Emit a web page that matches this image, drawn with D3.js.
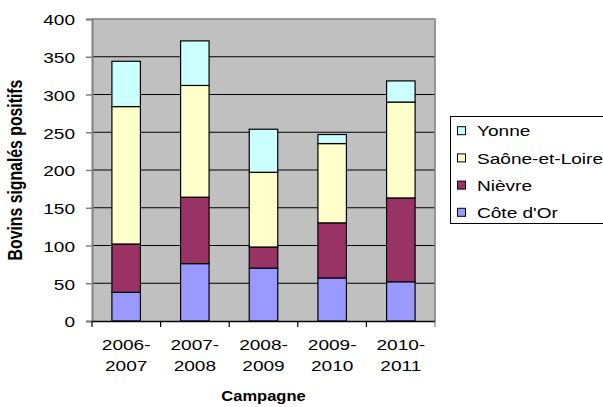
<!DOCTYPE html>
<html>
<head>
<meta charset="utf-8">
<script src="https://cdn.jsdelivr.net/npm/d3@7"></script>
<style>
  html, body { margin: 0; padding: 0; background: #fff; }
  svg { display: block; font-family: Arial, "Liberation Sans", sans-serif; }
</style>
</head>
<body>
<svg id="chart" width="603" height="407"></svg>
<script>
const categories = ["2006-2007", "2007-2008", "2008-2009", "2009-2010", "2010-2011"];
const seriesNames = ["Côte d'Or", "Nièvre", "Saône-et-Loire", "Yonne"];
const coteDOr     = [38, 76, 70, 57, 52];
const nievre      = [64, 88, 28, 73, 111];
const saoneEtLoire= [182, 148, 99, 105, 127];
const yonne       = [60, 59, 57, 12, 28];
const yTicks      = [0, 50, 100, 150, 200, 250, 300, 350, 400];
const colors      = ["#9999FF", "#993366", "#FFFFCC", "#CCFFFF"];

const seriesValues = [coteDOr, nievre, saoneEtLoire, yonne];
const table = categories.map((c, i) => {
  const row = { cat: c };
  seriesNames.forEach((s, j) => row[s] = seriesValues[j][i]);
  return row;
});

const svg = d3.select("#chart");
const margin = { left: 92, right: 168, top: 19, bottom: 86 };
const W = 603, H = 407;
const x0 = margin.left, x1 = W - margin.right, y0 = margin.top, y1 = H - margin.bottom;
const SX = 1.23;      // horizontal text stretch of the original picture
const FS = 15.5;

const x = d3.scaleBand().domain(categories).range([x0, x1]).paddingInner(0.585).paddingOuter(0.29);
const y = d3.scaleLinear().domain([0, 400]).range([y1, y0]);

// plot background
svg.append("rect").attr("x", x0).attr("y", y0).attr("width", x1 - x0).attr("height", y1 - y0)
  .attr("fill", "#C0C0C0");

// gridlines
svg.append("g").selectAll("line").data(yTicks.filter(d => d > 0 && d < 400)).join("line")
  .attr("x1", x0).attr("x2", x1).attr("y1", d => y(d)).attr("y2", d => y(d))
  .attr("stroke", "#000").attr("stroke-width", 1);

// plot border top/right
svg.append("path").attr("d", `M${x0},${y0}H${x1}V${y1}`).attr("fill", "none")
  .attr("stroke", "#808080").attr("stroke-width", 1.5);

// stacked bars
const stack = d3.stack().keys(seriesNames);
const layers = stack(table);
svg.append("g").selectAll("g").data(layers).join("g")
  .attr("fill", (d, i) => colors[i])
  .selectAll("rect").data(d => d).join("rect")
  .attr("x", d => x(d.data.cat))
  .attr("width", x.bandwidth())
  .attr("y", d => y(d[1]))
  .attr("height", d => y(d[0]) - y(d[1]))
  .attr("stroke", "#000").attr("stroke-width", 1.2);

// y axis
const yAxis = d3.axisLeft(y).tickValues(yTicks).tickSize(6).tickPadding(11);
const gy = svg.append("g").attr("transform", `translate(${x0},0)`).call(yAxis);
gy.select(".domain").attr("stroke", "#808080").attr("stroke-width", 2);
gy.selectAll(".tick line").attr("stroke", "#808080").attr("stroke-width", 1.5);
gy.selectAll(".tick text").attr("font-size", FS).attr("fill", "#000")
  .attr("font-family", "Arial, 'Liberation Sans', sans-serif")
  .attr("x", 0).attr("dy", "0.38em")
  .attr("transform", `translate(-17,0) scale(${SX},1)`);

// x axis
const xAxis = d3.axisBottom(x).tickSize(0).tickFormat("");
const gx = svg.append("g").attr("transform", `translate(0,${y1})`).call(xAxis);
gx.select(".domain").attr("stroke", "#000").attr("stroke-width", 1.5);
const bounds = d3.range(categories.length + 1).map(i => x0 + i * (x1 - x0) / categories.length);
svg.append("g").selectAll("line").data(bounds).join("line")
  .attr("x1", d => d).attr("x2", d => d).attr("y1", y1).attr("y2", y1 + 6)
  .attr("stroke", (d, i) => i === categories.length ? "#808080" : "#000").attr("stroke-width", 1.2);

// category labels (two lines)
const catG = svg.append("g");
categories.forEach(c => {
  const cx = x(c) + x.bandwidth() / 2;
  const parts = c.split("-");
  const t = catG.append("text").attr("text-anchor", "middle").attr("font-size", FS)
    .attr("transform", `translate(${cx},0) scale(${SX},1)`);
  t.append("tspan").attr("x", 0).attr("y", 350).text(parts[0] + "-");
  t.append("tspan").attr("x", 0).attr("y", 371).text(parts[1]);
});

// axis titles
svg.append("text").attr("transform", `translate(${(x0 + x1) / 2},401) scale(1.1,1)`)
  .attr("text-anchor", "middle")
  .attr("font-size", 15).attr("font-weight", "bold").text("Campagne");
svg.append("text").attr("transform", `translate(22,${(y0 + y1) / 2}) scale(${SX},1) rotate(-90)`)
  .attr("text-anchor", "middle").attr("font-size", 15.8).attr("font-weight", "bold")
  .text("Bovins signalés positifs");

// legend
const lg = svg.append("g");
lg.append("rect").attr("x", 450.5).attr("y", 116.5).attr("width", 170).attr("height", 107)
  .attr("fill", "#fff").attr("stroke", "#000").attr("stroke-width", 1);
const legendOrder = [3, 2, 1, 0];
legendOrder.forEach((si, k) => {
  const cy = 130.7 + k * 27.2;
  lg.append("rect").attr("x", 457.5).attr("y", cy - 4).attr("width", 8).attr("height", 8)
    .attr("fill", colors[si]).attr("stroke", "#000").attr("stroke-width", 1);
  lg.append("text").attr("transform", `translate(477,${cy + 5.6}) scale(${SX},1)`)
    .attr("font-size", FS).text(seriesNames[si]);
});
</script>
</body>
</html>
